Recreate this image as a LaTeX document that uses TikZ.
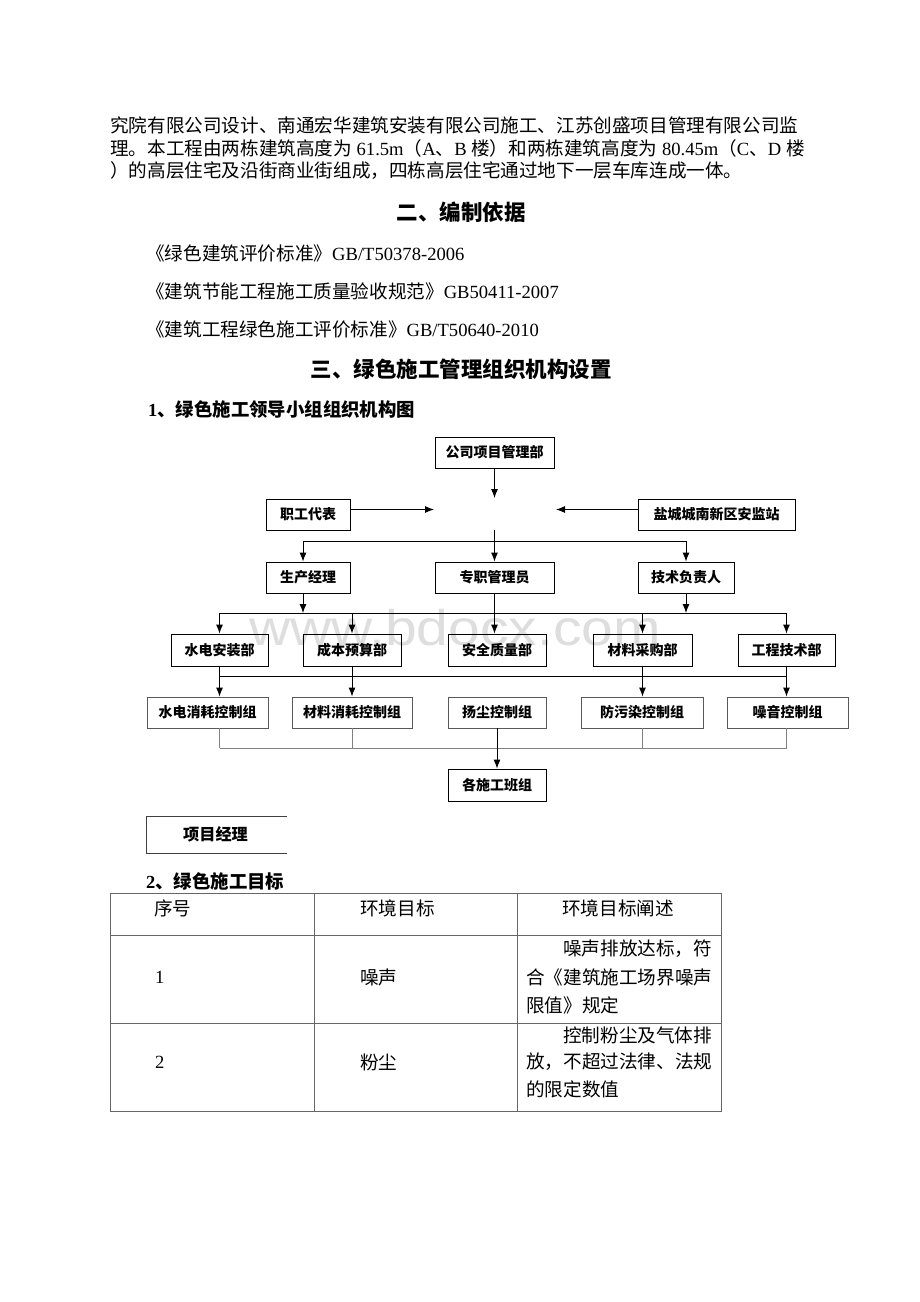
\documentclass[tikz,border=0pt]{standalone}
\usepackage{fontspec}
\usepackage{graphicx}
\setmainfont{Noto Sans CJK SC}
\newfontfamily\lat{Liberation Serif}
\newfontfamily\wmfont{Liberation Sans}
\usetikzlibrary{arrows.meta}

\begin{document}
\begin{tikzpicture}[x=1pt,y=-1pt,
  every node/.style={inner sep=0pt},
  body/.style={anchor=west,font=\fontsize{18.6}{20}\selectfont},
  head/.style={font=\fontsize{21.5}{24}\selectfont\bfseries},
  sub/.style={anchor=west,font=\fontsize{18.4}{20}\selectfont\bfseries},
  org/.style={draw,line width=0.9pt,minimum height=31pt,font=\fontsize{14}{16}\selectfont\bfseries},
  grp/.style={org,draw=black!65},
  link/.style={line width=0.9pt},
  arr/.style={link,-{Latex[length=9pt,width=7pt]}},
  faint/.style={line width=1pt,draw=black!50},
  rule/.style={line width=0.9pt,draw=black!60},
  cell/.style={font=\fontsize{18.6}{20}\selectfont}]
\fill[white] (0,0) rectangle (920,1302);
\useasboundingbox (0,0) rectangle (920,1302);

% watermark
\node[anchor=base,text=black!13,font=\wmfont\fontsize{50}{50}\selectfont] (wm) at (455,645) {\scalebox{1.14}[1]{www.bdocx.com}};

% text above the chart
\node[body] (l1) at (110,125) {究院有限公司设计、南通宏华建筑安装有限公司施工、江苏创盛项目管理有限公司监};
\node[body] (l2) at (110,148) {理。本工程由两栋建筑高度为{\lat\ 61.5m}（{\lat A}、{\lat B\ }楼）和两栋建筑高度为{\lat\ 80.45m}（{\lat C}、{\lat D\ }楼};
\node[body] (l3) at (110,171) {）的高层住宅及沿街商业街组成，四栋高层住宅通过地下一层车库连成一体。};
\node[head] (h2) at (461,212) {二、编制依据};
\node[body] (r1) at (146,253) {《绿色建筑评价标准》{\lat GB/T50378-2006}};
\node[body] (r2) at (146,291) {《建筑节能工程施工质量验收规范》{\lat GB50411-2007}};
\node[body] (r3) at (146,329) {《建筑工程绿色施工评价标准》{\lat GB/T50640-2010}};
\node[head] (h3) at (461,369) {三、绿色施工管理组织机构设置};
\node[sub] (s1) at (148,409) {{\lat 1}、绿色施工领导小组组织机构图};

% chart
\node[org,minimum width=119pt] (gs) at (494.5,452.5) {公司项目管理部};
\node[org,minimum width=84pt] (zg) at (308,514.5) {职工代表};
\node[org,minimum width=157pt] (yc) at (716.5,514.5) {盐城城南新区安监站};
\node[org,minimum width=84pt] (sc) at (308,577.5) {生产经理};
\node[org,minimum width=119pt] (zz) at (494.5,577.5) {专职管理员};
\node[org,minimum width=96pt] (js) at (686,577.5) {技术负责人};
\node[org,minimum width=97pt,minimum height=32pt] (sd) at (219.5,650) {水电安装部};
\node[org,minimum width=98pt,minimum height=32pt] (cb) at (352,650) {成本预算部};
\node[org,minimum width=98pt,minimum height=32pt] (aq) at (497,650) {安全质量部};
\node[org,minimum width=99pt,minimum height=32pt] (cg) at (642.5,650) {材料采购部};
\node[org,minimum width=97pt,minimum height=32pt] (gj) at (786.5,650) {工程技术部};
\node[grp,minimum width=121pt] (sx) at (207.5,712.5) {水电消耗控制组};
\node[grp,minimum width=120pt] (cx) at (352,712.5) {材料消耗控制组};
\node[grp,minimum width=98pt] (yz) at (497,712.5) {扬尘控制组};
\node[grp,minimum width=122pt] (fw) at (642,712.5) {防污染控制组};
\node[grp,minimum width=121pt] (zy) at (787.5,712.5) {噪音控制组};
\node[org,minimum width=98pt,minimum height=32pt] (bz) at (497,785) {各施工班组};

\coordinate (hub) at (494.5,498);
\coordinate (hubl) at (434,509.5);
\coordinate (hubr) at (556,509.5);
\coordinate (hubb) at (494.5,530);
\coordinate (busa) at (0,541);
\coordinate (busb) at (0,613);
\coordinate (busc) at (0,676);
\coordinate (busd) at (0,748);

\draw[arr] (gs.south) -- (hub);
\draw[arr] (zg.east |- hubl) -- (hubl);
\draw[arr] (yc.west |- hubr) -- (hubr);
\draw[arr] (hubb) -- (zz.north);
\draw[link] ([xshift=-5pt]sc.north |- busa) -- (js.north |- busa);
\draw[arr] ([xshift=-5pt]sc.north |- busa) -- ([xshift=-5pt]sc.north);
\draw[arr] (js.north |- busa) -- (js.north);

\draw[arr] ([xshift=-5pt]sc.south) -- ([xshift=-5pt]sc.south |- busb);
\draw[arr] (js.south) -- (js.south |- busb);
\draw[link] (sd.north |- busb) -- (gj.north |- busb);
\foreach \n in {sd,cb,cg,gj}
  \draw[arr] (\n.north |- busb) -- (\n.north);
\draw[arr] (zz.south) -- (zz.south |- aq.north);

\draw[link] (sd.south |- busc) -- (gj.south |- busc);
\draw[arr] (sd.south) -- (sd.south |- sx.north);
\draw[arr] (cb.south) -- (cx.north);
\draw[arr] (cg.south) -- (cg.south |- fw.north);
\draw[arr] (gj.south) -- (gj.south |- zy.north);

\draw[faint] (sd.south |- busd) -- (gj.south |- busd);
\draw[faint] (sd.south |- sx.south) -- (sd.south |- busd);
\draw[faint] (cx.south) -- (cx.south |- busd);
\draw[faint] (cg.south |- fw.south) -- (cg.south |- busd);
\draw[faint] (gj.south |- zy.south) -- (gj.south |- busd);
\draw[arr] (yz.south) -- (bz.north);

% open box
\node[font=\fontsize{16.2}{18}\selectfont\bfseries] (pm) at (215.5,834) {项目经理};
\draw[link,draw=black!75] (287,816) -- (146,816) -- (146,853) -- (287,853);

\node[sub] (s2) at (146,881) {{\lat 2}、绿色施工目标};

% table
\draw[rule] (110,893) rectangle (721,1111);
\draw[rule] (110,935) -- (721,935);
\draw[rule] (110,1023) -- (721,1023);
\draw[rule] (314,893) -- (314,1111);
\draw[rule] (517.5,893) -- (517.5,1111);

\node[cell,anchor=west] (c11) at (154,908) {序号};
\node[cell,anchor=west] (c12) at (360,908) {环境目标};
\node[cell,anchor=west] (c13) at (562,908) {环境目标阐述};
\node[cell,anchor=west] (c21) at (155,977) {\lat 1};
\node[cell,anchor=west] (c22) at (360,977) {噪声};
\node[cell,anchor=west] (c23a) at (563,949) {噪声排放达标，符};
\node[cell,anchor=west] (c23b) at (526,977) {合《建筑施工场界噪声};
\node[cell,anchor=west] (c23c) at (526,1005) {限值》规定};
\node[cell,anchor=west] (c31) at (155,1062) {\lat 2};
\node[cell,anchor=west] (c32) at (360,1062) {粉尘};
\node[cell,anchor=west] (c33a) at (563,1035) {控制粉尘及气体排};
\node[cell,anchor=west] (c33b) at (526,1062) {放，不超过法律、法规};
\node[cell,anchor=west] (c33c) at (526,1089) {的限定数值};
\end{tikzpicture}
\end{document}
